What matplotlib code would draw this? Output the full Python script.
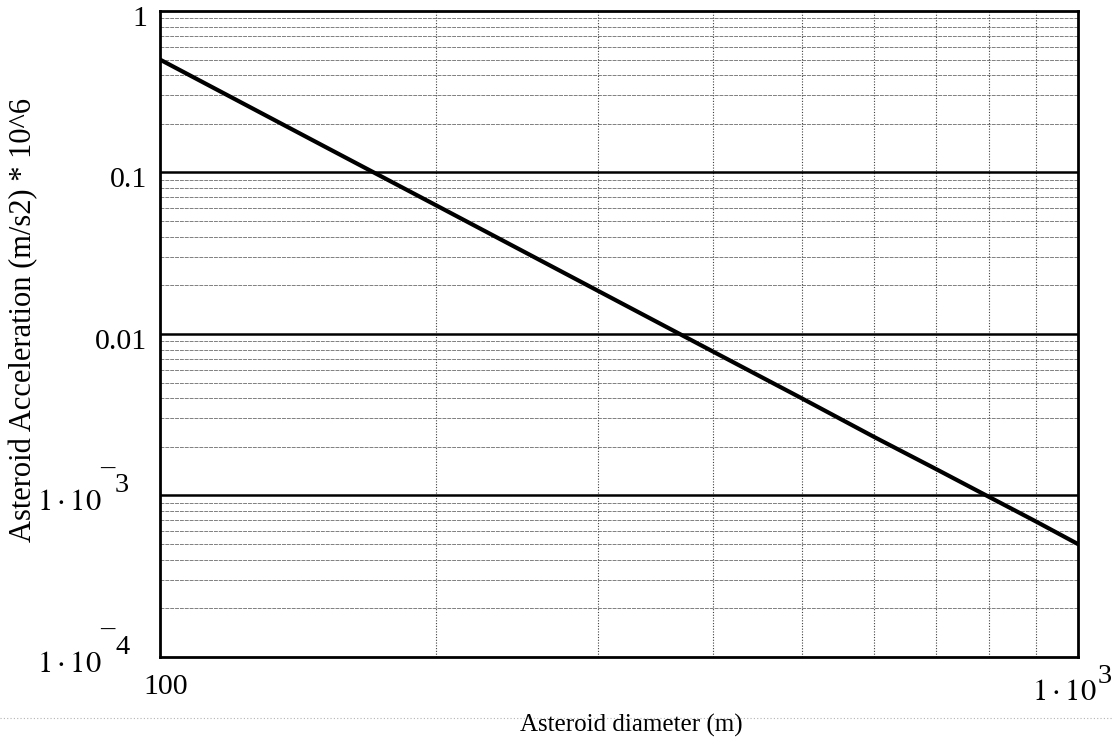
import numpy as np
import matplotlib.pyplot as plt
from matplotlib.ticker import FixedLocator, NullFormatter

plt.rcParams['font.family'] = ['Liberation Serif', 'DejaVu Serif']
plt.rcParams['mathtext.fontset'] = 'stix'

# values (diameter in m, acceleration in m/s2 * 10^6)
diameter = [100, 150, 200, 300, 400, 500, 600, 700, 800, 900, 1000]
accel = [0.5, 0.148, 0.0625, 0.0185, 0.0078, 0.004, 0.0023, 0.00146, 0.00098, 0.00069, 0.0005]

y_plain = [1e-2, 1e-1, 1]
y_plain_labels = ['0.01', '0.1', '1']
y_exp = [1e-4, 1e-3]
y_exp_labels = ['4', '3']

PX = 0.72  # points per pixel at 100 dpi

fig = plt.figure(figsize=(11.12, 7.42), dpi=100)
ax = fig.add_axes([0.1439, 0.1146, 0.8255, 0.8706])

ax.set_xscale('log')
ax.set_yscale('log')
ax.set_xlim(100, 1000)
ax.set_ylim(1e-4, 1)

# grid: solid black decades, grey minor lines, dotted verticals
minor_y = [m * 10.0**e for e in range(-4, 0) for m in range(2, 10)]
for v in minor_y:
    ax.axhline(v, color='0.5', lw=0.7, ls=(0, (4, 1)), zorder=1)
for v in [1e-3, 1e-2, 1e-1]:
    ax.axhline(v, color='black', lw=1.8, zorder=2)
for v in range(200, 1000, 100):
    ax.axvline(v, color='0.25', lw=0.8, ls=(0, (1, 1.5)), zorder=1)

ax.plot(diameter, accel, color='black', lw=3.0, zorder=3)

ax.xaxis.set_major_locator(FixedLocator([100, 1000]))
ax.yaxis.set_major_locator(FixedLocator(y_exp + y_plain))
ax.xaxis.set_major_formatter(NullFormatter())
ax.yaxis.set_major_formatter(NullFormatter())
ax.xaxis.set_minor_formatter(NullFormatter())
ax.yaxis.set_minor_formatter(NullFormatter())
ax.tick_params(which='both', length=0)

ytr = ax.get_yaxis_transform()
xtr = ax.get_xaxis_transform()


def label(xy, trans, text, dx, dy, ha, size=21.5):
    ax.annotate(text, xy=xy, xycoords=trans, xytext=(dx * PX, dy * PX),
                textcoords='offset points', ha=ha, va='baseline', fontsize=size)


# y tick labels (Mathcad style: raised bar for the minus sign)
for v, lab in zip(y_plain, y_plain_labels):
    label((0, v), ytr, lab, -13, -15, 'right')
for v, e in zip(y_exp, y_exp_labels):
    label((0, v), ytr, r'$1\cdot10$', -58, -15, 'right', 22)
    label((0, v), ytr, '\u2013', -60, 21, 'left', 20.5)
    label((0, v), ytr, e, -45, 3, 'left', 20.5)

# x tick labels
label((100, 0), xtr, '100', 6, -37, 'center')
label((1000, 0), xtr, r'$1\cdot10$', 19, -43, 'right', 22)
label((1000, 0), xtr, '3', 20, -26, 'left', 20.5)

for s in ax.spines.values():
    s.set_linewidth(2.0)

fig.text(0.568, 0.022, 'Asteroid diameter (m)', ha='center', va='center', fontsize=18)
fig.text(0.021, 0.569, 'Asteroid Acceleration (m/s2) * 10^6', ha='center', va='center',
         rotation=90, fontsize=22)

# faint dotted scan line below the plot
fig.add_artist(plt.Line2D([0.0, 1.0], [0.032, 0.032], transform=fig.transFigure,
                          color='0.7', lw=0.8, ls=(0, (1, 2))))

fig.savefig('out.png', dpi=100)
